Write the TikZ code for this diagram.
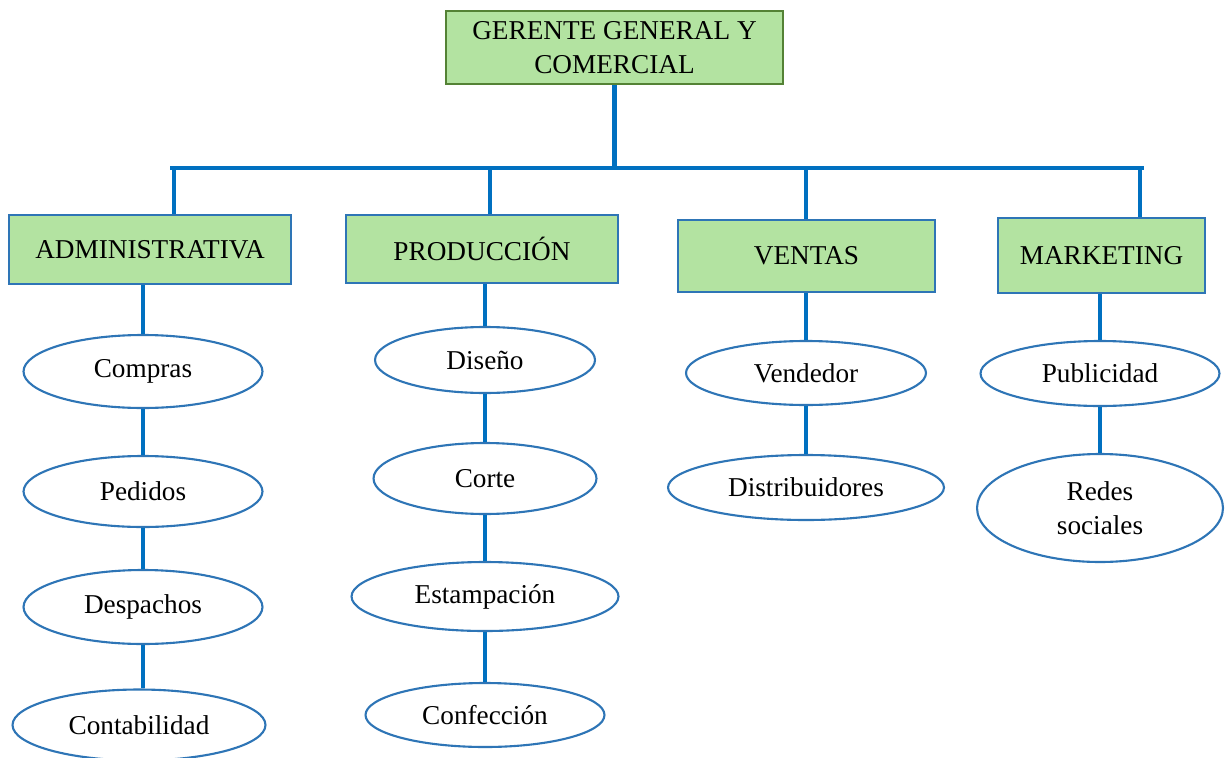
\documentclass[tikz,border=0pt]{standalone}
\usepackage{fontspec}
\setmainfont{Liberation Serif}
\usetikzlibrary{shapes.geometric}
\definecolor{boxgreen}{HTML}{B3E3A1}
\definecolor{darkgreen}{HTML}{548235}
\definecolor{lineblue}{HTML}{0070C0}
\definecolor{edgeblue}{HTML}{2E75B6}
\tikzset{
  every node/.style={font=\fontsize{15.5}{19.5}\selectfont, align=center},
  head/.style={draw=darkgreen, fill=boxgreen, line width=1.3pt}, % top box
  area/.style={draw=edgeblue, fill=boxgreen, line width=1.2pt}, % departments
  task/.style={ellipse, draw=edgeblue, fill=white, line width=1.2pt, inner sep=0pt},
  link/.style={draw=lineblue, line width=2.8pt},
}

\begin{document}
\begin{tikzpicture}[x=0.02cm, y=-0.02cm]
  \useasboundingbox (0,0) rectangle (1229,757);

  % heads
  \node[head, minimum width=6.74cm, minimum height=1.46cm] (gerente) at (614.5,47.5) {GERENTE GENERAL Y\\COMERCIAL};
  \node[area, minimum width=5.64cm, minimum height=1.38cm] (admin) at (150,249.5) {ADMINISTRATIVA};
  \node[area, minimum width=5.44cm, minimum height=1.36cm] (prod) at (482,249) {PRODUCCIÓN};
  \node[area, minimum width=5.14cm, minimum height=1.44cm] (ventas) at (806.5,256) {VENTAS};
  \node[area, minimum width=4.14cm, minimum height=1.50cm] (mkt) at (1101.5,255.5) {MARKETING};

  % bus
  \coordinate (b1) at (174,168);
  \coordinate (b2) at (490,168);
  \coordinate (b3) at (806,168);
  \coordinate (b4) at (1140,168);

  \draw[link] (gerente.south) -- (gerente |- b1);
  \draw[link] ([xshift=-2pt]b1) -- ([xshift=2pt]b4);
  \draw[link] (b1) -- (b1 |- admin.north);
  \draw[link] (b2) -- (b2 |- prod.north);
  \draw[link] (b3) -- (b3 |- ventas.north);
  \draw[link] (b4) -- (b4 |- mkt.north);

  % administrativa
  \node[task, minimum width=4.78cm, minimum height=1.46cm] (compras) at (143,371.5) {Compras};
  \node[task, minimum width=4.78cm, minimum height=1.42cm] (pedidos) at (143,491.5) {Pedidos};
  \node[task, minimum width=4.78cm, minimum height=1.48cm] (despachos) at (143,607) {Despachos};
  \node[task, minimum width=5.06cm, minimum height=1.42cm] (conta) at (139,725) {Contabilidad};

  % produccion
  \node[task, minimum width=4.40cm, minimum height=1.32cm] (diseno) at (485,360) {Diseño};
  \node[task, minimum width=4.46cm, minimum height=1.42cm] (corte) at (485,478.5) {Corte};
  \node[task, minimum width=5.34cm, minimum height=1.38cm] (estampa) at (485,596.5) {Estampación};
  \node[task, minimum width=4.78cm, minimum height=1.28cm] (confec) at (485,715) {Confección};

  % ventas
  \node[task, minimum width=4.80cm, minimum height=1.28cm] (vendedor) at (806,373) {Vendedor};
  \node[task, minimum width=5.52cm, minimum height=1.30cm] (distri) at (806,487.5) {Distribuidores};

  % marketing
  \node[task, minimum width=4.78cm, minimum height=1.30cm] (publi) at (1100,373.5) {Publicidad};
  \node[task, minimum width=4.92cm, minimum height=2.16cm] (redes) at (1100,508) {Redes\\sociales};

  \draw[link] (compras |- admin.south) -- (compras.north);
  \draw[link] (compras.south) -- (pedidos.north);
  \draw[link] (pedidos.south) -- (despachos.north);
  \draw[link] (despachos.south) -- (despachos.south |- conta.north);

  \draw[link] (diseno |- prod.south) -- (diseno.north);
  \draw[link] (diseno.south) -- (corte.north);
  \draw[link] (corte.south) -- (estampa.north);
  \draw[link] (estampa.south) -- (confec.north);

  \draw[link] (vendedor |- ventas.south) -- (vendedor.north);
  \draw[link] (vendedor.south) -- (distri.north);

  \draw[link] (publi |- mkt.south) -- (publi.north);
  \draw[link] (publi.south) -- (redes.north);
\end{tikzpicture}
\end{document}
